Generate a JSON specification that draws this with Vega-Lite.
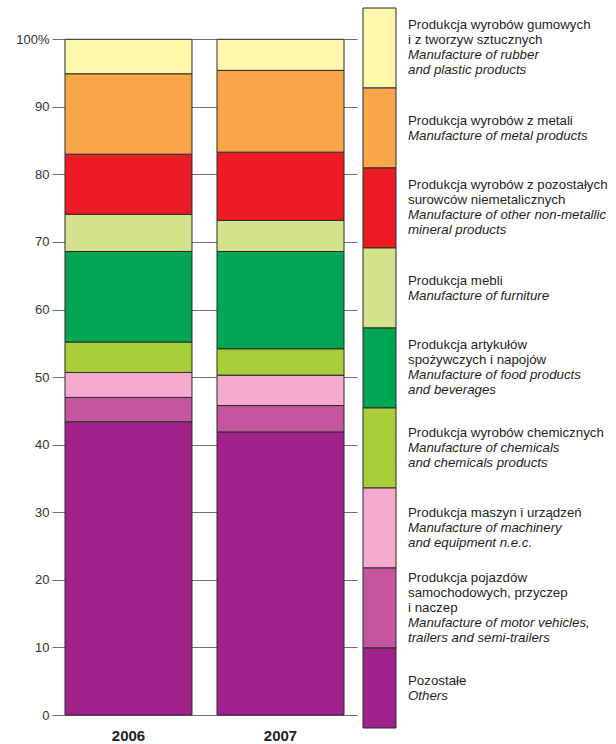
{
  "$schema": "https://vega.github.io/schema/vega-lite/v6.json",
  "padding": {"left": 5, "top": 7, "right": 0, "bottom": 0},
  "background": "white",
  "spacing": 5,
  "config": {
    "view": {"stroke": null},
    "font": "Liberation Sans"
  },
  "datasets": {
    "shares": [
      {"year": "2006", "category": "Others", "k": 1, "value": 43.4},
      {"year": "2006", "category": "Motor", "k": 2, "value": 3.6},
      {"year": "2006", "category": "Machinery", "k": 3, "value": 3.7},
      {"year": "2006", "category": "Chemicals", "k": 4, "value": 4.5},
      {"year": "2006", "category": "Food", "k": 5, "value": 13.4},
      {"year": "2006", "category": "Furniture", "k": 6, "value": 5.5},
      {"year": "2006", "category": "Non-metallic", "k": 7, "value": 8.9},
      {"year": "2006", "category": "Metal", "k": 8, "value": 11.9},
      {"year": "2006", "category": "Rubber", "k": 9, "value": 5.1},
      {"year": "2007", "category": "Others", "k": 1, "value": 41.9},
      {"year": "2007", "category": "Motor", "k": 2, "value": 3.9},
      {"year": "2007", "category": "Machinery", "k": 3, "value": 4.5},
      {"year": "2007", "category": "Chemicals", "k": 4, "value": 3.9},
      {"year": "2007", "category": "Food", "k": 5, "value": 14.4},
      {"year": "2007", "category": "Furniture", "k": 6, "value": 4.6},
      {"year": "2007", "category": "Non-metallic", "k": 7, "value": 10.1},
      {"year": "2007", "category": "Metal", "k": 8, "value": 12.1},
      {"year": "2007", "category": "Rubber", "k": 9, "value": 4.6}
    ],
    "legendRows": [
      {"category": "Rubber", "k": 9, "pl": ["Produkcja wyrobów gumowych", "i z tworzyw sztucznych"], "en": ["Manufacture of rubber", "and plastic products"]},
      {"category": "Metal", "k": 8, "pl": ["Produkcja wyrobów z metali"], "en": ["Manufacture of metal products"]},
      {"category": "Non-metallic", "k": 7, "pl": ["Produkcja wyrobów z pozostałych", "\u00a0surowców niemetalicznych"], "en": ["Manufacture of other non-metallic", "mineral products"]},
      {"category": "Furniture", "k": 6, "pl": ["Produkcja mebli"], "en": ["Manufacture of furniture"]},
      {"category": "Food", "k": 5, "pl": ["Produkcja artykułów", "spożywczych i napojów"], "en": ["Manufacture of food products", "and beverages"]},
      {"category": "Chemicals", "k": 4, "pl": ["Produkcja wyrobów chemicznych"], "en": ["Manufacture of chemicals", "and chemicals products"]},
      {"category": "Machinery", "k": 3, "pl": ["Produkcja maszyn i urządzeń"], "en": ["Manufacture of machinery", "and equipment n.e.c."]},
      {"category": "Motor", "k": 2, "pl": ["Produkcja pojazdów", "samochodowych, przyczep", "i naczep"], "en": ["Manufacture of motor vehicles,", "trailers and semi-trailers"]},
      {"category": "Others", "k": 1, "pl": ["Pozostałe"], "en": ["Others"]}
    ]
  },
  "hconcat": [
    {
      "width": 305,
      "height": 707,
      "data": {"name": "shares"},
      "mark": {"type": "bar", "stroke": "#2a2a2a", "strokeWidth": 1},
      "encoding": {
        "x": {
          "field": "year",
          "type": "nominal",
          "scale": {"paddingInner": 0.1645, "paddingOuter": 0.0855},
          "axis": {
            "title": null,
            "domain": false,
            "ticks": false,
            "labelAngle": 0,
            "labelFontSize": 15,
            "labelFontWeight": "bold",
            "labelColor": "#222222",
            "labelPadding": 13
          }
        },
        "y": {
          "field": "value",
          "type": "quantitative",
          "stack": "zero",
          "scale": {"domain": [0, 104.63], "nice": false, "zero": true},
          "axis": {
            "title": null,
            "values": [0, 10, 20, 30, 40, 50, 60, 70, 80, 90, 100],
            "labelExpr": "datum.value == 100 ? '100%' : datum.label",
            "domain": false,
            "ticks": false,
            "grid": true,
            "gridColor": "#6e6e6e",
            "gridWidth": 1,
            "gridOpacity": 1,
            "labelFontSize": 13,
            "labelColor": "#333333",
            "labelPadding": 3,
            "minExtent": 47,
            "maxExtent": 47
          }
        },
        "color": {
          "field": "category",
          "type": "nominal",
          "scale": {
            "domain": ["Others", "Motor", "Machinery", "Chemicals", "Food", "Furniture", "Non-metallic", "Metal", "Rubber"],
            "range": ["#A2228C", "#C4559E", "#F5AACE", "#A8CE3A", "#00A651", "#D4E28B", "#ED1C24", "#F9A64A", "#FFF8AA"]
          },
          "legend": null
        },
        "order": {"field": "k", "type": "quantitative"}
      }
    },
    {
      "width": 254,
      "height": 720,
      "data": {"name": "legendRows"},
      "encoding": {
        "y": {
          "field": "k",
          "type": "ordinal",
          "sort": "descending",
          "scale": {"paddingInner": 0, "paddingOuter": 0},
          "axis": null
        }
      },
      "layer": [
        {
          "mark": {"type": "bar", "stroke": "#2a2a2a", "strokeWidth": 1, "orient": "horizontal"},
          "encoding": {
            "x": {"datum": 0, "type": "quantitative", "scale": {"domain": [0, 254], "nice": false}, "axis": null},
            "x2": {"datum": 33},
            "color": {"field": "category", "type": "nominal", "legend": null}
          }
        },
        {
          "transform": [{"filter": "length(datum.pl) + length(datum.en) == 2"}],
          "mark": {"type": "text", "align": "left", "baseline": "middle", "fontSize": 13.3, "lineHeight": 15, "dy": -7.5, "color": "#231f20"},
          "encoding": {"x": {"datum": 45, "type": "quantitative"}, "text": {"field": "pl"}}
        },
        {
          "transform": [{"filter": "length(datum.pl) + length(datum.en) == 2"}],
          "mark": {"type": "text", "align": "left", "baseline": "middle", "fontSize": 13.3, "lineHeight": 15, "dy": 7.5, "fontStyle": "italic", "color": "#231f20"},
          "encoding": {"x": {"datum": 45, "type": "quantitative"}, "text": {"field": "en"}}
        },
        {
          "transform": [{"filter": "length(datum.pl) + length(datum.en) == 3"}],
          "mark": {"type": "text", "align": "left", "baseline": "middle", "fontSize": 13.3, "lineHeight": 15, "dy": -15, "color": "#231f20"},
          "encoding": {"x": {"datum": 45, "type": "quantitative"}, "text": {"field": "pl"}}
        },
        {
          "transform": [{"filter": "length(datum.pl) + length(datum.en) == 3"}],
          "mark": {"type": "text", "align": "left", "baseline": "middle", "fontSize": 13.3, "lineHeight": 15, "dy": 0, "fontStyle": "italic", "color": "#231f20"},
          "encoding": {"x": {"datum": 45, "type": "quantitative"}, "text": {"field": "en"}}
        },
        {
          "transform": [{"filter": "length(datum.pl) + length(datum.en) == 4"}],
          "mark": {"type": "text", "align": "left", "baseline": "middle", "fontSize": 13.3, "lineHeight": 15, "dy": -23.5, "color": "#231f20"},
          "encoding": {"x": {"datum": 45, "type": "quantitative"}, "text": {"field": "pl"}}
        },
        {
          "transform": [{"filter": "length(datum.pl) + length(datum.en) == 4"}],
          "mark": {"type": "text", "align": "left", "baseline": "middle", "fontSize": 13.3, "lineHeight": 15, "dy": 6.5, "fontStyle": "italic", "color": "#231f20"},
          "encoding": {"x": {"datum": 45, "type": "quantitative"}, "text": {"field": "en"}}
        },
        {
          "transform": [{"filter": "length(datum.pl) + length(datum.en) == 5"}],
          "mark": {"type": "text", "align": "left", "baseline": "middle", "fontSize": 13.3, "lineHeight": 15, "dy": -30, "color": "#231f20"},
          "encoding": {"x": {"datum": 45, "type": "quantitative"}, "text": {"field": "pl"}}
        },
        {
          "transform": [{"filter": "length(datum.pl) + length(datum.en) == 5"}],
          "mark": {"type": "text", "align": "left", "baseline": "middle", "fontSize": 13.3, "lineHeight": 15, "dy": 15, "fontStyle": "italic", "color": "#231f20"},
          "encoding": {"x": {"datum": 45, "type": "quantitative"}, "text": {"field": "en"}}
        }
      ]
    }
  ]
}
